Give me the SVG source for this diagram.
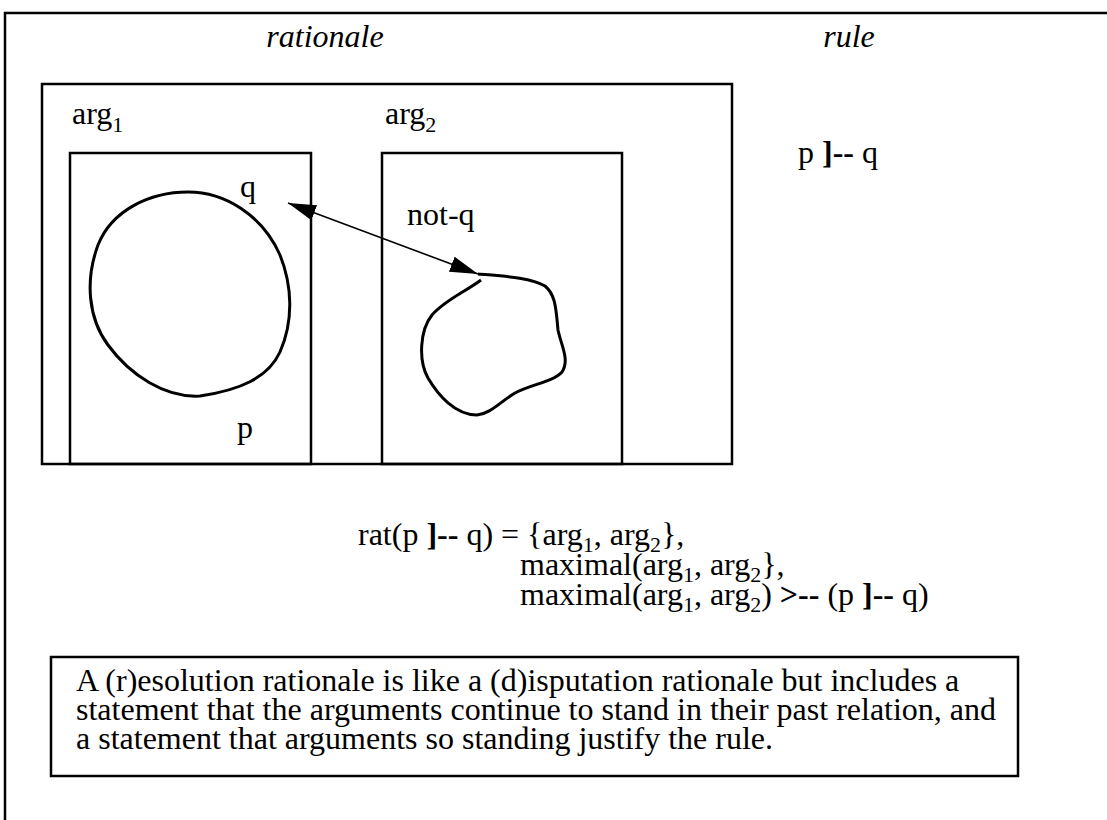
<svg xmlns="http://www.w3.org/2000/svg" width="1107" height="820" viewBox="0 0 1107 820">
<style>
text{font-family:"Liberation Serif","Times New Roman",serif;fill:#000}
.t{font-size:32px}
.it{font-size:32px;font-style:italic}
.sub{font-size:22px}
.b{font-weight:bold}
.box{fill:none;stroke:#000;stroke-width:2.5}
.blob{fill:none;stroke:#000;stroke-width:3}
.conn{fill:none;stroke:#000;stroke-width:1.6}
</style>
<defs>
<marker id="ah" viewBox="0 0 28 16" refX="28" refY="8" markerWidth="28" markerHeight="16" markerUnits="userSpaceOnUse" orient="auto-start-reverse">
<path d="M0,0 L28,8 L0,16 Z" fill="#000"/>
</marker>
</defs>
<rect width="1107" height="820" fill="#fff"/>
<g id="frame"><path class="box" d="M5,820 V13 H1107"/></g>
<g id="headings">
<text class="it" x="325" y="47" text-anchor="middle">rationale</text>
<text class="it" x="849" y="47" text-anchor="middle">rule</text>
</g>
<g id="rationale"><rect class="box" x="42" y="84" width="690" height="380"/></g>
<g id="arg1">
<text class="t" x="72" y="124">arg<tspan class="sub" dy="8">1</tspan></text>
<rect class="box" x="70" y="153" width="241" height="311"/>
<path class="blob" d="M188,192 C225,192 262,215 280,255 C292,285 294,320 280,352 C268,378 240,390 200,396 C165,398 130,375 108,345 C88,318 85,280 98,245 C112,210 150,192 188,192 Z"/>
<text class="t" x="240" y="197">q</text>
<text class="t" x="237" y="438">p</text>
</g>
<g id="arg2">
<text class="t" x="385" y="124">arg<tspan class="sub" dy="8">2</tspan></text>
<rect class="box" x="382" y="153" width="240" height="311"/>
<path class="blob" d="M478,274 C500,276 530,277 545,286 C556,295 556,310 558,330 C561,345 570,360 562,372 C553,382 532,384 515,393 C500,402 490,414 477,415 C455,415 438,395 428,378 C418,360 420,330 432,315 C445,300 465,292 481,280"/>
<text class="t" x="407" y="225">not-q</text>
</g>
<g id="connectors">
<path class="conn" d="M288,203 L478,274" marker-start="url(#ah)" marker-end="url(#ah)"/>
</g>
<g id="rule"><text class="t" x="798" y="163">p <tspan class="b">]--</tspan> q</text></g>
<g id="formula">
<text class="t" x="358" y="545">rat(p <tspan class="b">]--</tspan> q) = {arg<tspan class="sub" dy="7">1</tspan><tspan dy="-7">, arg</tspan><tspan class="sub" dy="7">2</tspan><tspan dy="-7">},</tspan></text>
<text class="t" x="520" y="575">maximal(arg<tspan class="sub" dy="7">1</tspan><tspan dy="-7">, arg</tspan><tspan class="sub" dy="7">2</tspan><tspan dy="-7">},</tspan></text>
<text class="t" x="520" y="605">maximal(arg<tspan class="sub" dy="7">1</tspan><tspan dy="-7">, arg</tspan><tspan class="sub" dy="7">2</tspan><tspan dy="-7">) </tspan><tspan class="b">&gt;--</tspan> (p <tspan class="b">]--</tspan> q)</text>
</g>
<g id="note">
<rect class="box" x="51" y="657" width="967" height="119"/>
<text class="t" x="76" y="691">A (r)esolution rationale is like a (d)isputation rationale but includes a</text>
<text class="t" x="76" y="720">statement that the arguments continue to stand in their past relation, and</text>
<text class="t" x="76" y="749">a statement that arguments so standing justify the rule.</text>
</g>
</svg>
